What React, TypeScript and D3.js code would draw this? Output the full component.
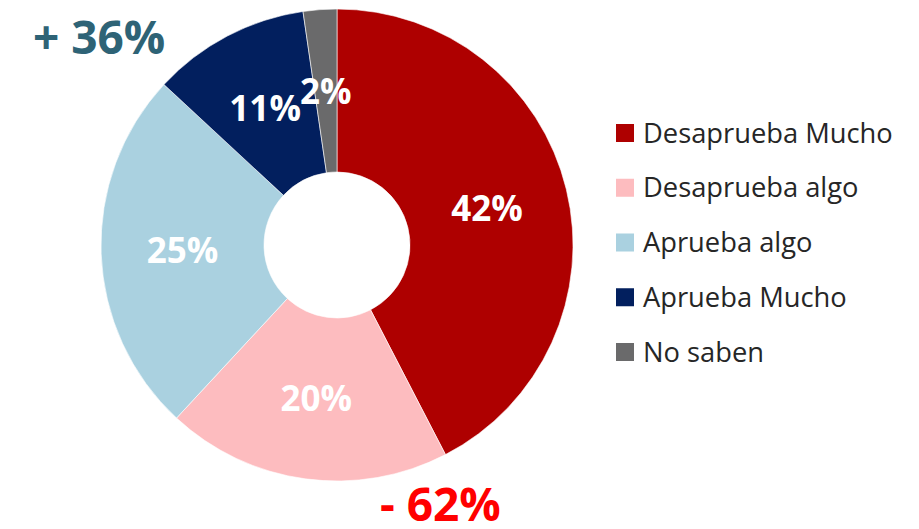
import React, { useRef, useEffect } from 'react';
import * as d3 from 'd3';

const categories = ['Desaprueba Mucho', 'Desaprueba algo', 'Aprueba algo', 'Aprueba Mucho', 'No saben'];
const values = [42.4, 19.5, 25.0, 10.8, 2.3];
const colors = ['#AE0000', '#FDBCBF', '#AAD1E0', '#021F5E', '#6A6A6B'];
const summaryLabels = ['+ 36%', '- 62%'];

const WIDTH = 919;
const HEIGHT = 529;

const App: React.FC = () => {
  const svgRef = useRef<SVGSVGElement | null>(null);

  useEffect(() => {
    if (!svgRef.current) return;
    const svg = d3.select(svgRef.current);
    svg.selectAll('*').remove();

    const cx = 337;
    const cy = 245;
    const outerR = 236;
    const innerR = 73;
    const font = "'Open Sans', 'Noto Sans', sans-serif";

    const data = categories.map((c, i) => ({ cat: c, value: values[i], color: colors[i] }));

    const pie = d3.pie<typeof data[0]>()
      .value(d => d.value)
      .sort(null);

    const arc = d3.arc<d3.PieArcDatum<typeof data[0]>>()
      .innerRadius(innerR)
      .outerRadius(outerR);

    const g = svg.append('g').attr('transform', `translate(${cx},${cy})`);

    const arcs = pie(data);

    g.selectAll('path')
      .data(arcs)
      .join('path')
      .attr('d', arc)
      .attr('fill', d => d.data.color)
      .attr('stroke', '#fff')
      .attr('stroke-width', 0.6);

    // slice labels
    g.selectAll('text.lbl')
      .data(arcs)
      .join('text')
      .attr('class', 'lbl')
      .attr('x', d => arc.centroid(d)[0])
      .attr('y', d => arc.centroid(d)[1])
      .attr('dy', '0.36em')
      .attr('text-anchor', 'middle')
      .attr('fill', '#fff')
      .attr('font-family', font)
      .attr('font-weight', 700)
      .attr('font-size', 35)
      .text(d => `${Math.round(d.data.value)}%`);

    // summary labels
    svg.append('text')
      .attr('x', 33)
      .attr('y', 54)
      .attr('fill', '#2E6376')
      .attr('font-family', font)
      .attr('font-weight', 700)
      .attr('font-size', 46)
      .text(summaryLabels[0]);

    svg.append('text')
      .attr('x', 380)
      .attr('y', 521)
      .attr('fill', '#FF0000')
      .attr('font-family', font)
      .attr('font-weight', 700)
      .attr('font-size', 46)
      .text(summaryLabels[1]);

    // legend
    const legendY = d3.scalePoint<string>()
      .domain(categories)
      .range([133, 352]);

    const legend = svg.append('g');
    const items = legend.selectAll('g')
      .data(data)
      .join('g')
      .attr('transform', d => `translate(616,${legendY(d.cat)})`);

    items.append('rect')
      .attr('x', 0)
      .attr('y', -9)
      .attr('width', 18)
      .attr('height', 18)
      .attr('fill', d => d.color);

    items.append('text')
      .attr('x', 27)
      .attr('y', 0)
      .attr('dy', '0.35em')
      .attr('fill', '#262626')
      .attr('font-family', font)
      .attr('font-size', 27.3)
      .text(d => d.cat);
  }, []);

  return (
    <svg
      ref={svgRef}
      width={WIDTH}
      height={HEIGHT}
      style={{ position: 'absolute', left: 0, top: 0, background: '#fff' }}
    />
  );
};

export default App;
